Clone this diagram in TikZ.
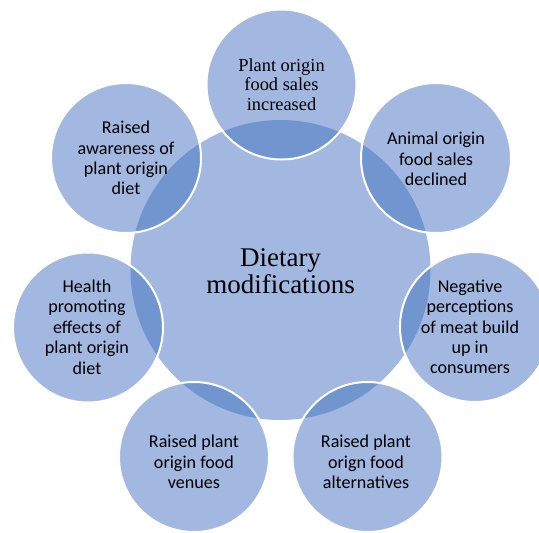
\documentclass[tikz,border=0pt]{standalone}
\usepackage{fontspec}
\setmainfont{Liberation Serif}
\newfontfamily\calib{Carlito}
\definecolor{lightfill}{RGB}{162,184,224}
\definecolor{darkfill}{RGB}{113,149,207}
\begin{document}
\begin{tikzpicture}[x=1pt,y=-1pt,
  outertext/.style={align=center,font=\calib\fontsize{18.1}{20.4}\selectfont,text=black},
  toptext/.style={align=center,font=\fontsize{18.4}{19.5}\selectfont,text=black},
  centertext/.style={align=center,font=\fontsize{27}{27.5}\selectfont,text=black},
  rim/.style={draw=white,line width=2pt}]
\useasboundingbox (0,0) rectangle (539,533);
\def\midx{280.5}\def\midy{270}\def\midrad{150}\def\outrad{75}
% central circle
\fill[lightfill] (\midx,\midy) circle (\midrad);
\node[centertext] (center) at (\midx,271) {Dietary\\modifications};
% outer circles: name, x, y
\foreach \n/\x/\y in {top/281.5/84.5, animal/436/158, negative/475/327, altern/367.5/457, venues/194/457, health/88/327.5, aware/126/158}{
  \fill[lightfill] (\x,\y) circle (\outrad);
  \begin{scope}
    \clip (\x,\y) circle (\outrad);
    \fill[darkfill] (\midx,\midy) circle (\midrad);
  \end{scope}
  \draw[rim] (\x,\y) circle (\outrad);
  \coordinate (c\n) at (\x,\y);
}
\node[toptext] (ttop) at (281.5,84.5) {Plant origin\\food sales\\increased};
\node[outertext] (tanimal) at (436,159) {Animal origin\\food sales\\declined};
\node[outertext] (tneg) at (470,327) {Negative\\perceptions\\of meat build\\up in\\consumers};
\node[outertext] (talt) at (366,462) {Raised plant\\orign food\\alternatives};
\node[outertext] (tven) at (194,462) {Raised plant\\origin food\\venues};
\node[outertext] (thealth) at (87,327) {Health\\promoting\\effects of\\plant origin\\diet};
\node[outertext] (taware) at (126,158) {Raised\\awareness of\\plant origin\\diet};
\end{tikzpicture}
\end{document}
